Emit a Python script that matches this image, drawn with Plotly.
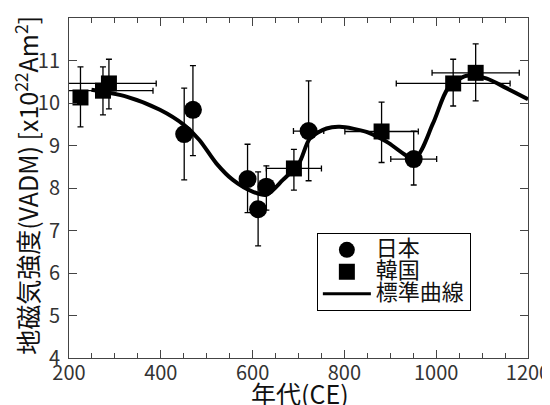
import plotly.graph_objects as go

# Japan (circles)
jp_x = [451, 470, 589, 612, 630, 722, 951]
jp_y = [9.27, 9.84, 8.21, 7.50, 8.03, 9.34, 8.68]
jp_up = [10.35, 10.88, 9.03, 8.38, 8.52, 10.52, 9.34]
jp_lo = [8.19, 8.76, 7.42, 6.64, 7.48, 8.17, 8.07]
jp_xerr = [0, 0, 0, 0, 0, 33, 50]

# Korea (squares)
kr_x = [225, 274, 287, 690, 881, 1037, 1086]
kr_y = [10.13, 10.29, 10.46, 8.46, 9.33, 10.46, 10.71]
kr_up = [10.85, 10.85, 11.03, 8.91, 10.02, 11.03, 11.39]
kr_lo = [9.44, 9.72, 9.86, 7.95, 8.60, 9.93, 10.05]
kr_xerr = [0, 109, 103, 60, 80, 124, 95]

# Standard curve
curve_x = [249, 325, 398, 451, 484, 521, 557, 601, 630, 666, 701, 725, 761, 790,
           848, 892, 953, 993, 1026, 1066, 1109, 1153, 1200]
curve_y = [10.31, 10.15, 9.84, 9.48, 9.13, 8.58, 8.19, 7.91, 7.84, 8.19, 8.58, 9.17,
           9.40, 9.44, 9.32, 9.09, 8.70, 9.52, 10.35, 10.64, 10.58, 10.35, 10.09]

x_ticks = [200, 400, 600, 800, 1000, 1200]
x_title = "年代(CE)"
y_title = "地磁気強度(VADM) [x10<sup>22</sup>Am<sup>2</sup>]"
legend_names = ["日本", "韓国", "標準曲線"]

FONT = "Noto Sans CJK JP"

fig = go.Figure()

fig.add_trace(go.Scatter(
    x=curve_x, y=curve_y, mode="lines", line=dict(color="black", width=4, shape="spline", smoothing=0.8),
    showlegend=False, hoverinfo="skip"))

err_style = dict(color="black", thickness=1.3, width=3)

fig.add_trace(go.Scatter(
    x=jp_x, y=jp_y, mode="markers",
    marker=dict(symbol="circle", size=18, color="black"),
    error_y=dict(type="data", symmetric=False,
                 array=[u - y for u, y in zip(jp_up, jp_y)],
                 arrayminus=[y - l for l, y in zip(jp_lo, jp_y)], **err_style),
    error_x=dict(type="data", array=jp_xerr, **err_style),
    showlegend=False))

fig.add_trace(go.Scatter(
    x=kr_x, y=kr_y, mode="markers",
    marker=dict(symbol="square", size=16, color="black"),
    error_y=dict(type="data", symmetric=False,
                 array=[u - y for u, y in zip(kr_up, kr_y)],
                 arrayminus=[y - l for l, y in zip(kr_lo, kr_y)], **err_style),
    error_x=dict(type="data", array=kr_xerr, **err_style),
    showlegend=False))

def big(t):
    return f'<span style="font-size:22px">{t}</span>'

# legend entries
fig.add_trace(go.Scatter(x=[None], y=[None], mode="markers", name=big(legend_names[0]),
                         marker=dict(symbol="circle", size=19, color="black")))
fig.add_trace(go.Scatter(x=[None], y=[None], mode="markers", name=big(legend_names[1]),
                         marker=dict(symbol="square", size=16, color="black")))
fig.add_trace(go.Scatter(x=[None], y=[None], mode="lines", name=big(legend_names[2]),
                         line=dict(color="black", width=3)))

axis_common = dict(
    showline=True, linecolor="#444", linewidth=1, mirror="ticks",
    ticks="inside", tickcolor="#444", showgrid=False, zeroline=False,
    tickfont=dict(family=FONT, size=20, color="#333"), automargin=False,
)

fig.update_xaxes(
    range=[200, 1200], tickmode="array", tickvals=x_ticks,
    ticklen=8, tickwidth=1, ticklabelstandoff=-3,
    minor=dict(dtick=50, tick0=0, ticks="inside", ticklen=5, tickcolor="#444", showgrid=False),
    **axis_common)

fig.update_yaxes(
    range=[4, 12], dtick=1, ticklen=8, tickwidth=1, ticklabelstandoff=4,
    **axis_common)

fig.add_annotation(text=x_title, xref="paper", yref="paper", x=0.503, y=-0.103,
                   xanchor="center", yanchor="middle", showarrow=False,
                   font=dict(family=FONT, size=25, color="#111"))
fig.add_annotation(text=y_title, xref="paper", yref="paper", x=-0.092, y=0.509,
                   xanchor="center", yanchor="middle", showarrow=False, textangle=-90,
                   font=dict(family=FONT, size=25, color="#111"))

# page body has an 8px margin: plot area lands at x 69..528, y 18..358 in the window
fig.update_layout(
    width=550, height=405,
    margin=dict(l=61, r=30, t=10, b=55),
    paper_bgcolor="white", plot_bgcolor="white",
    font=dict(family=FONT, color="#111"),
    legend=dict(x=0.54, y=0.368, xanchor="left", yanchor="top",
                bordercolor="black", borderwidth=1, bgcolor="white",
                font=dict(family=FONT, size=14.6, color="#111"),
                tracegroupgap=0, itemsizing="trace", itemwidth=48),
)

fig.write_html("out.html")
